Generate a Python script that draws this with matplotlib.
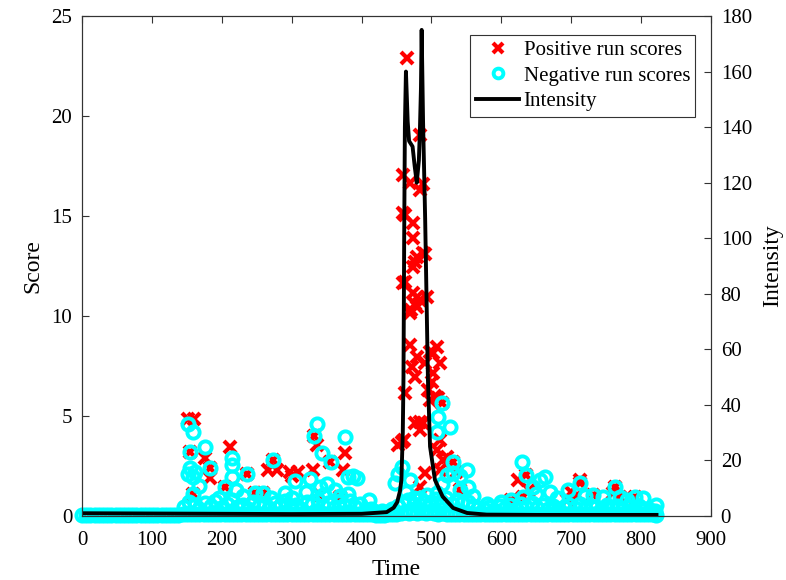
import matplotlib
matplotlib.use("Agg")
import matplotlib.pyplot as plt
from matplotlib.lines import Line2D

plt.rcParams["font.family"] = ["Liberation Serif", "DejaVu Serif"]
plt.rcParams["font.size"] = 15

# intensity trace (time, intensity)
INT_T = [0, 100, 200, 300, 400, 436, 446, 451, 455, 457, 459, 460, 461, 462, 463.5,
         466, 468, 473, 476, 479, 482, 483.5, 485, 486, 488, 491, 495, 498, 505,
         516, 531, 551, 579, 650, 750, 822]
INT_V = [1.0, 0.9, 0.8, 0.7, 0.8, 1.4, 3.0, 5.0, 9.0, 13, 30, 50, 100, 140, 160,
         142, 135, 133, 126, 120, 128, 139, 154, 175, 142, 107, 49, 25, 13,
         7.0, 2.9, 1.1, 0.5, 0.4, 0.4, 0.4]

# positive run scores (red crosses)
POS_T = [465, 484, 459, 469, 484, 488, 459, 462, 473, 474, 479, 491, 488, 476, 474,
         460, 462, 474, 479, 479, 469, 493, 476, 484, 471, 469, 508, 502, 498, 479,
         512, 491, 472, 476, 502, 462, 495, 505, 498, 509, 501, 484, 476, 488, 461,
         452, 458, 484, 512, 508, 517, 522, 512, 535, 491, 484, 541, 531, 515,
         152, 160, 154, 176, 183, 183, 159, 212, 205, 236, 266, 279, 273, 247, 259,
         297, 309, 332, 336, 331, 355, 376, 374, 369, 340, 300,
         624, 631, 636, 614, 712, 712, 694, 708, 731, 762, 770, 791, 640, 700, 760]
POS_S = [22.9, 19.05, 17.05, 16.65, 16.3, 16.6, 15.15, 15.05, 14.65, 13.9, 12.95, 13.1,
         13.15, 12.7, 12.45, 11.65, 11.7, 11.15, 10.95, 10.45, 10.15, 10.95, 10.6, 10.8,
         10.3, 8.55, 8.45, 8.15, 8.2, 7.95, 7.65, 7.65, 7.45, 6.95, 7.15, 6.15, 6.3, 6.0,
         5.8, 5.9, 6.7, 4.7, 4.65, 4.65, 3.8, 3.55, 3.7, 4.3, 3.8, 3.3, 2.8, 2.95, 2.3,
         2.2, 2.15, 1.45, 1.3, 2.7, 5.65,
         4.85, 4.85, 3.2, 2.9, 2.4, 1.9, 1.1, 3.45, 1.45, 2.1, 2.3, 2.3, 2.8, 1.15, 1.15,
         2.2, 2.2, 4.0, 3.55, 2.3, 2.7, 3.15, 2.3, 0.95, 1.05, 2.0,
         1.8, 0.95, 2.05, 0.8, 1.8, 1.65, 0.8, 1.05, 1.05, 1.45, 0.95, 0.95, 1.3, 1.2, 1.15]

# negative run scores (cyan circles), upper points
NEG_T = [152, 159, 154.5, 176, 183, 155, 159, 152, 162, 214, 214, 214, 236, 205, 221,
         159, 273, 247, 259, 290, 305, 326, 336, 332, 343, 356, 340, 376, 380, 388,
         369, 380, 345, 393, 167, 230, 196, 270, 300, 320, 350, 362, 410,
         458, 452, 448, 469, 515, 509, 526, 508, 531, 551, 522, 531, 541, 552, 541,
         493, 508, 463, 475, 500, 515, 560,
         629, 636, 655, 662, 645, 614, 631, 695, 712, 731, 762, 745, 770, 791, 803,
         822, 600, 580, 680, 720, 780, 670, 650]
NEG_S = [4.6, 4.2, 3.2, 3.45, 2.4, 2.4, 1.95, 2.1, 2.2, 2.9, 2.55, 1.95, 2.1, 1.45, 1.3,
         1.1, 2.8, 1.15, 1.15, 1.15, 1.75, 1.85, 4.6, 4.0, 3.15, 2.7, 1.45, 3.95, 1.95, 2.0,
         1.0, 1.1, 1.05, 1.9, 1.5, 1.0, 0.9, 0.9, 0.9, 1.2, 1.6, 1.3, 0.8,
         2.45, 2.1, 1.65, 1.8, 5.65, 4.95, 4.45, 4.2, 2.7, 2.3, 2.05, 2.15, 2.0, 1.45, 1.3,
         1.05, 1.15, 1.2, 0.9, 0.7, 1.6, 1.0,
         2.7, 2.05, 1.8, 1.95, 1.45, 0.8, 0.95, 1.3, 1.65, 1.05, 1.45, 0.95, 0.95, 0.95, 0.9,
         0.55, 0.7, 0.6, 0.9, 1.0, 0.8, 1.2, 1.1]

# negative run scores, low dense band
LOW_T = [146, 153, 161, 168, 176, 184, 191, 199, 207, 214, 222, 230, 237, 245, 253,
         260, 268, 276, 283, 291, 299, 306, 314, 322, 329, 337, 345, 352, 360, 368,
         375, 383, 391, 398, 406, 414, 421, 429, 437, 444, 452, 460, 467, 475, 483,
         490, 498, 506, 513, 521, 529, 536, 544, 552, 559, 567, 575, 582, 590, 598,
         605, 613, 621, 628, 636, 644, 651, 659, 667, 674, 682, 690, 697, 705, 713,
         720, 728, 736, 743, 751, 759, 766, 774, 782, 789, 797, 805, 812, 820]
LOW_S = [0.45, 0.7, 0.55, 0.35, 0.65, 0.5, 0.75, 0.4, 0.6, 0.8, 0.45, 0.55, 0.35, 0.7, 0.5,
         0.6, 0.4, 0.65, 0.5, 0.75, 0.45, 0.55, 0.35, 0.7, 0.6, 0.8, 0.5, 0.65, 0.4, 0.7,
         0.55, 0.75, 0.45, 0.6, 0.3, 0.35, 0.2, 0.25, 0.2, 0.35, 0.5, 0.65, 0.8, 0.6, 0.9,
         0.7, 0.55, 0.85, 0.75, 0.9, 0.6, 0.8, 0.65, 0.7, 0.5, 0.4, 0.35, 0.45, 0.3, 0.5,
         0.4, 0.55, 0.35, 0.6, 0.45, 0.65, 0.4, 0.55, 0.35, 0.5, 0.3, 0.45, 0.55, 0.4, 0.6,
         0.35, 0.5, 0.45, 0.3, 0.55, 0.4, 0.5, 0.35, 0.45, 0.3, 0.5, 0.35, 0.3, 0.25]

# negative run scores along zero
BASE_T = [0, 6, 12, 18, 24, 30, 36, 42, 48, 54, 60, 66, 72, 78, 84, 90, 96, 102, 108, 114,
          120, 126, 132, 138, 144, 150, 156, 162, 168, 174, 180, 186, 192, 198, 204, 210,
          216, 222, 228, 234, 240, 246, 252, 258, 264, 270, 276, 282, 288, 294, 300, 306,
          312, 318, 324, 330, 336, 342, 348, 354, 360, 366, 372, 378, 384, 390, 396, 402,
          408, 414, 420, 426, 432, 438, 444, 450, 456, 462, 468, 474, 480, 486, 492, 498,
          504, 510, 516, 522, 528, 534, 540, 546, 552, 558, 564, 570, 576, 582, 588, 594,
          600, 606, 612, 618, 624, 630, 636, 642, 648, 654, 660, 666, 672, 678, 684, 690,
          696, 702, 708, 714, 720, 726, 732, 738, 744, 750, 756, 762, 768, 774, 780, 786,
          792, 798, 804, 810, 816, 822]
BASE_S = [0.05, 0.05, 0.04, 0.05, 0.05, 0.04, 0.05, 0.05, 0.05, 0.04, 0.05, 0.05, 0.05,
          0.04, 0.05, 0.05, 0.05, 0.04, 0.05, 0.05, 0.05, 0.04, 0.05, 0.05, 0.08, 0.1,
          0.12, 0.1, 0.08, 0.12, 0.1, 0.08, 0.1, 0.12, 0.1, 0.08, 0.1, 0.12, 0.1, 0.08,
          0.1, 0.12, 0.1, 0.08, 0.1, 0.12, 0.1, 0.08, 0.1, 0.12, 0.1, 0.08, 0.1, 0.12,
          0.1, 0.08, 0.1, 0.12, 0.1, 0.08, 0.1, 0.12, 0.1, 0.08, 0.1, 0.12, 0.1, 0.08,
          0.1, 0.08, 0.06, 0.05, 0.06, 0.08, 0.1, 0.12, 0.15, 0.2, 0.15, 0.2, 0.15, 0.2,
          0.15, 0.2, 0.15, 0.12, 0.15, 0.12, 0.1, 0.12, 0.1, 0.12, 0.1, 0.08, 0.1, 0.08,
          0.1, 0.08, 0.1, 0.08, 0.1, 0.08, 0.1, 0.08, 0.1, 0.08, 0.1, 0.08, 0.1, 0.08,
          0.1, 0.08, 0.1, 0.08, 0.1, 0.08, 0.1, 0.08, 0.1, 0.08, 0.1, 0.08, 0.1, 0.08,
          0.1, 0.08, 0.1, 0.08, 0.1, 0.08, 0.1, 0.08, 0.1, 0.08, 0.1, 0.08, 0.1, 0.05]

X_TICKS = [0, 100, 200, 300, 400, 500, 600, 700, 800, 900]
Y_TICKS = [0, 5, 10, 15, 20, 25]
Y2_TICKS = [0, 20, 40, 60, 80, 100, 120, 140, 160, 180]

RED = "#ff0000"
CYAN = "#00ffff"
SPINE = "#333333"
CIRCLE = dict(linestyle="none", marker="o", mfc="none", mec=CYAN, ms=8.8, mew=2.8,
              clip_on=False)

fig = plt.figure(figsize=(7.86, 5.80), dpi=100)
ax = fig.add_axes([0.1043, 0.1103, 0.8003, 0.8621])
ax2 = ax.twinx()

ax.plot(POS_T, POS_S, linestyle="none", marker="x", color=RED, ms=8, mew=3.0)
ax.plot(BASE_T, BASE_S, **CIRCLE)
ax.plot(LOW_T, LOW_S, **CIRCLE)
ax.plot(NEG_T, NEG_S, **CIRCLE)
ax2.plot(INT_T, INT_V, color="black", lw=2.8)

ax.set_xlim(0, 900)
ax.set_ylim(0, 25)
ax2.set_ylim(0, 180)
ax.set_xticks(X_TICKS)
ax.set_yticks(Y_TICKS)
ax2.set_yticks(Y2_TICKS)

ax.tick_params(axis="x", direction="in", top=True, length=5, width=0.8, color=SPINE, pad=11)
ax.tick_params(axis="y", direction="in", right=False, length=5, width=0.8, color=SPINE, pad=7)
ax2.tick_params(axis="y", direction="in", length=5, width=0.8, color=SPINE, pad=7)
for a in (ax, ax2):
    for sp in a.spines.values():
        sp.set_color(SPINE)
        sp.set_linewidth(0.8)

ax.set_xlabel("Time", fontsize=17, labelpad=6)
ax.set_ylabel("Score", fontsize=17, labelpad=6)
ax2.set_ylabel("Intensity", fontsize=17, labelpad=7)

handles = [
    Line2D([], [], linestyle="none", marker="x", color=RED, ms=7, mew=3.0),
    Line2D([], [], linestyle="none", marker="o", mfc="none", mec=CYAN, ms=7, mew=2.8),
    Line2D([], [], color="black", lw=2.8),
]
labels = ["Positive run scores", "Negative run scores", "Intensity"]
leg = ax2.legend(handles, labels, loc="upper right", bbox_to_anchor=(0.975, 0.962),
                 borderaxespad=0, fancybox=False, framealpha=1, edgecolor=SPINE,
                 fontsize=15, handlelength=2.1, handletextpad=0.2, labelspacing=0.3,
                 borderpad=0.25)
leg.get_frame().set_linewidth(0.8)

fig.savefig("out.png", dpi=100)
